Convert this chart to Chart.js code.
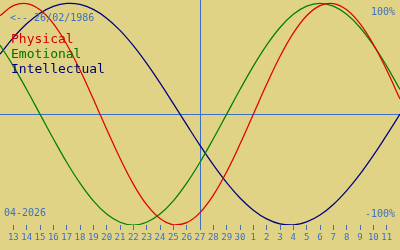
<!DOCTYPE html>
<html>
<head>
<meta charset="utf-8">
<script src="https://cdn.jsdelivr.net/npm/chart.js@4"></script>
<style>
  html, body { margin: 0; padding: 0; background: #e0d385; }
  #wrap { width: 400px; height: 250px; }
</style>
</head>
<body>
<div id="wrap"><canvas id="bioChart"></canvas></div>
<script>
// days shown on the axis, one per step (12 Apr .. 12 May)
const days = [12, 13, 14, 15, 16, 17, 18, 19, 20, 21, 22, 23, 24, 25, 26, 27,
  28, 29, 30, 1, 2, 3, 4, 5, 6, 7, 8, 9, 10, 11, 12];

const physical = [0.888, 0.979, 0.998, 0.942, 0.817, 0.631, 0.398, 0.136,
  -0.136, -0.398, -0.631, -0.817, -0.942, -0.998, -0.979, -0.888, -0.731,
  -0.520, -0.270, 0, 0.270, 0.520, 0.731, 0.888, 0.979, 0.998, 0.942, 0.817,
  0.631, 0.398, 0.136];

const emotional = [0.623, 0.434, 0.222, 0, -0.222, -0.434, -0.623, -0.782,
  -0.901, -0.975, -1, -0.975, -0.901, -0.782, -0.623, -0.434, -0.222, 0,
  0.222, 0.434, 0.623, 0.782, 0.901, 0.975, 1, 0.975, 0.901, 0.782, 0.623,
  0.434, 0.222];

const intellectual = [0.541, 0.690, 0.815, 0.910, 0.972, 0.999, 0.990, 0.945,
  0.866, 0.756, 0.618, 0.458, 0.282, 0.095, -0.095, -0.282, -0.458, -0.618,
  -0.756, -0.866, -0.945, -0.990, -0.999, -0.972, -0.910, -0.815, -0.690,
  -0.541, -0.372, -0.189, 0];

const today = 15; // index of 27
const birthLabel = "<-- 26/02/1986";
const monthLabel = "04-2026";

const blue = "#3d6fc2";
const mono = '"DejaVu Sans Mono", monospace';

const toPoints = arr => arr.map((v, i) => ({ x: i, y: v }));

// zero line, today line and the texts
const overlay = {
  id: "overlay",
  beforeDatasetsDraw(chart) {
    const { ctx, scales } = chart;
    const x = Math.round(scales.x.getPixelForValue(today)) + 0.5;
    const y = Math.round(scales.y.getPixelForValue(0)) + 0.5;
    ctx.save();
    ctx.strokeStyle = blue;
    ctx.lineWidth = 1;
    ctx.beginPath();
    ctx.moveTo(0, y);
    ctx.lineTo(chart.width, y);
    ctx.moveTo(x, 0);
    ctx.lineTo(x, chart.chartArea.bottom + 5);
    ctx.stroke();
    ctx.restore();
  },
  afterDraw(chart) {
    const ctx = chart.ctx;
    ctx.save();
    ctx.textBaseline = "alphabetic";
    ctx.font = "10px " + mono;
    ctx.fillStyle = blue;
    ctx.textAlign = "left";
    ctx.fillText(birthLabel, 10, 21);
    ctx.fillText(monthLabel, 4, 216);
    ctx.textAlign = "right";
    ctx.fillText("100%", 395, 15);
    ctx.fillText("-100%", 395, 217);

    ctx.textAlign = "left";
    ctx.font = "13px " + mono;
    ctx.fillStyle = "#d40000";
    ctx.fillText("Physical", 11, 43);
    ctx.fillStyle = "#007000";
    ctx.fillText("Emotional", 11, 58);
    ctx.fillStyle = "#000070";
    ctx.fillText("Intellectual", 11, 73);
    ctx.restore();
  }
};

new Chart(document.querySelector("#bioChart"), {
  type: "line",
  data: {
    datasets: [
      { label: "Physical", data: toPoints(physical), borderColor: "#e00000" },
      { label: "Emotional", data: toPoints(emotional), borderColor: "#008000" },
      { label: "Intellectual", data: toPoints(intellectual), borderColor: "#000080" }
    ]
  },
  options: {
    responsive: true,
    maintainAspectRatio: false,
    animation: false,
    layout: { padding: 0 },
    elements: {
      line: { borderWidth: 1.25, tension: 0.4, fill: false },
      point: { radius: 0 }
    },
    plugins: { legend: { display: false }, tooltip: { enabled: false } },
    scales: {
      x: {
        type: "linear",
        min: 0,
        max: days.length - 1,
        afterBuildTicks: s => {
          s.ticks = days.map((d, i) => ({ value: i })).filter(t => t.value >= 1 && t.value <= days.length - 2);
        },
        afterFit: s => { s.height = 25; },
        border: { display: false },
        grid: { drawOnChartArea: false, color: blue, tickLength: 5 },
        ticks: {
          autoSkip: false,
          maxRotation: 0,
          minRotation: 0,
          padding: 2,
          color: blue,
          font: { family: mono, size: 9 },
          callback: v => days[v]
        }
      },
      y: {
        display: false,
        min: -1.0,
        max: 1.03
      }
    }
  },
  plugins: [overlay]
});
</script>
</body>
</html>
